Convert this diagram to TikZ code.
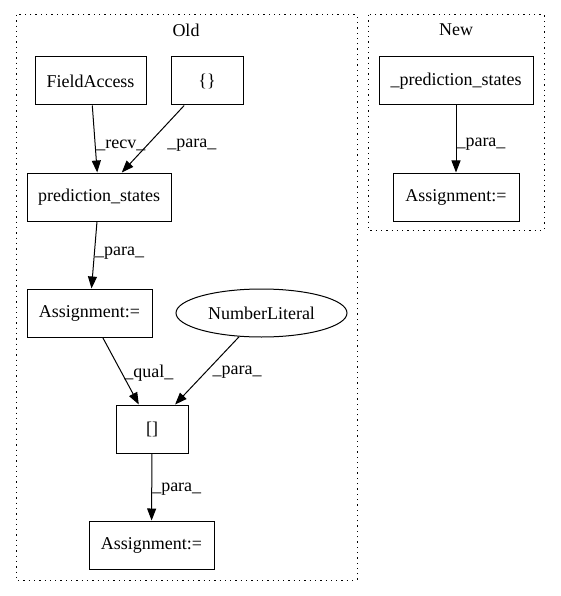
\documentclass[tikz,border=0pt]{standalone}
\usepackage{fontspec}
\setmainfont{Liberation Serif}
\usetikzlibrary{arrows.meta,shapes.geometric}
\begin{document}
\begin{tikzpicture}[x=1pt,y=-1pt,
  every node/.style={font=\fontsize{18}{20}\selectfont},
  box/.style={draw,line width=1pt,minimum height=48pt,inner sep=0pt},
  ell/.style={draw,ellipse,line width=1pt,minimum height=48pt,inner sep=0pt},
  cluster/.style={draw,line width=1pt,dash pattern=on 1.3pt off 4pt},
  edge/.style={draw,line width=1pt,-{Triangle[length=12pt,width=9pt]}},
  lbl/.style={anchor=west,inner sep=1pt}]
\useasboundingbox (0,0) rectangle (560,596);
% clusters
\draw[cluster] (16,15) rectangle (357,580);
\draw[cluster] (368,15) rectangle (544,230);
\node (oldlbl) at (186,30) {Old};
\node (newlbl) at (456,30) {New};
% old nodes
\node[box,minimum width=111pt] (fa) at (90.5,81) {FieldAccess};
\node[box,minimum width=72pt] (br) at (207,81) {\{\}};
\node[box,minimum width=144pt] (ps) at (99,197) {prediction\_states};
\node[box,minimum width=125pt] (as1) at (89.5,313) {Assignment:=};
\node[ell,minimum width=171pt] (nl) at (261.5,313) {NumberLiteral};
\node[box,minimum width=72pt] (ix) at (152,429) {[]};
\node[box,minimum width=125pt] (as2) at (151.5,545) {Assignment:=};
% new nodes
\node[box,minimum width=154pt] (nps) at (456,81) {\_prediction\_states};
\node[box,minimum width=126pt] (nas) at (456,197) {Assignment:=};
% edges
\draw[edge] (fa) -- node[lbl,pos=0.55,xshift=0pt,yshift=-3pt] {\_recv\_} (ps);
\draw[edge] (br) -- node[lbl,pos=0.55,xshift=16pt,yshift=-3pt] {\_para\_} (ps);
\draw[edge] (ps) -- node[lbl,pos=0.45,xshift=-1pt,yshift=-2pt] {\_para\_} (as1);
\draw[edge] (as1) -- node[lbl,pos=0.5,xshift=2pt,yshift=-2pt] {\_qual\_} (ix);
\draw[edge] (nl) -- node[lbl,pos=0.5,xshift=4pt,yshift=-2pt] {\_para\_} (ix);
\draw[edge] (ix) -- node[lbl,pos=0.5,xshift=-1pt,yshift=-2pt] {\_para\_} (as2);
\draw[edge] (nps) -- node[lbl,pos=0.55,xshift=-1pt,yshift=-2pt] {\_para\_} (nas);
\end{tikzpicture}
\end{document}
